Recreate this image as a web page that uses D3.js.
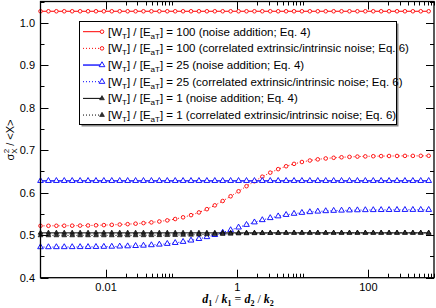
<!DOCTYPE html>
<html>
<head>
<meta charset="utf-8">
<script src="https://cdnjs.cloudflare.com/ajax/libs/d3/7.8.5/d3.min.js"></script>
<style>
  body { margin: 0; background: #fff; }
  svg { display: block; }
  text { font-family: "Liberation Sans", Arial, sans-serif; fill: #000; }
</style>
</head>
<body>
<div id="chart"></div>
<script>
// log10 of d1/k1 at each computed point
var dExp = [-3.000, -2.879, -2.758, -2.638, -2.517, -2.396, -2.275, -2.154, -2.034, -1.913,
            -1.792, -1.671, -1.550, -1.430, -1.309, -1.188, -1.067, -0.946, -0.826, -0.705,
            -0.584, -0.463, -0.342, -0.222, -0.101, 0.020, 0.141, 0.262, 0.382, 0.503,
            0.624, 0.745, 0.866, 0.986, 1.107, 1.228, 1.349, 1.470, 1.590, 1.711,
            1.832, 1.953, 2.074, 2.194, 2.315, 2.436, 2.557, 2.678, 2.798, 2.919];

// noise addition (Eq. 4) is flat in d1/k1
var red100Noise = 1.027,
    blue25Noise = 0.628,
    black1Noise = 0.5055;

// correlated extrinsic/intrinsic noise (Eq. 6)
var red100Corr = [0.5221, 0.5221, 0.5222, 0.5223, 0.5224, 0.5226, 0.5229, 0.5233, 0.5238, 0.5244,
                  0.5251, 0.5260, 0.5271, 0.5285, 0.5302, 0.5323, 0.5349, 0.5381, 0.5421, 0.5472,
                  0.5536, 0.5613, 0.5703, 0.5805, 0.5916, 0.6034, 0.6154, 0.6270, 0.6377, 0.6472,
                  0.6555, 0.6623, 0.6679, 0.6723, 0.6758, 0.6785, 0.6806, 0.6822, 0.6834, 0.6843,
                  0.6850, 0.6855, 0.6859, 0.6862, 0.6864, 0.6865, 0.6867, 0.6867, 0.6868, 0.6869];
var blue25Corr = [0.4721, 0.4721, 0.4722, 0.4722, 0.4723, 0.4724, 0.4725, 0.4727, 0.4730, 0.4733,
                  0.4737, 0.4742, 0.4749, 0.4757, 0.4768, 0.4782, 0.4799, 0.4820, 0.4846, 0.4877,
                  0.4914, 0.4958, 0.5008, 0.5063, 0.5122, 0.5184, 0.5246, 0.5305, 0.5358, 0.5406,
                  0.5447, 0.5480, 0.5507, 0.5529, 0.5546, 0.5559, 0.5569, 0.5577, 0.5582, 0.5587,
                  0.5590, 0.5593, 0.5594, 0.5596, 0.5597, 0.5598, 0.5598, 0.5599, 0.5599, 0.5599];
var black1Corr = [0.4995, 0.4995, 0.4995, 0.4995, 0.4995, 0.4995, 0.4995, 0.4995, 0.4995, 0.4995,
                  0.4995, 0.4995, 0.4996, 0.4997, 0.4998, 0.4999, 0.5001, 0.5003, 0.5006, 0.5009,
                  0.5013, 0.5018, 0.5023, 0.5028, 0.5033, 0.5038, 0.5042, 0.5045, 0.5048, 0.5050,
                  0.5052, 0.5053, 0.5054, 0.5055, 0.5055, 0.5055, 0.5055, 0.5055, 0.5055, 0.5055,
                  0.5055, 0.5055, 0.5055, 0.5055, 0.5055, 0.5055, 0.5055, 0.5055, 0.5055, 0.5055];

var ratios = ['100', '100', '25', '25', '1', '1'],
    descs  = ['noise addition; Eq. 4', 'correlated extrinsic/intrinsic noise; Eq. 6'],
    xMajor = [0.01, 1, 100],
    xMinorMult = [2, 3, 4, 5, 6, 7, 8, 9, 10],
    yMajor = [0.4, 0.5, 0.6, 0.7, 0.8, 0.9, 1.0],
    yMinor = [0.45, 0.55, 0.65, 0.75, 0.85, 0.95, 1.05];

var width  = 436,
    height = 308,
    pLeft = 40.5, pRight = 434, pTop = 1.5, pBottom = 277.7;

var svg = d3.select('#chart').append('svg')
    .attr('width', width)
    .attr('height', height);

var x = d3.scaleLog().domain([1e-3, 1e3]).range([pLeft, pRight]),
    y = d3.scaleLinear().domain([0.4, 1.05]).range([pBottom, pTop]);

function flat(v) { return dExp.map(function(e) { return {x: Math.pow(10, e), y: v}; }); }
function pts(arr) { return dExp.map(function(e, i) { return {x: Math.pow(10, e), y: arr[i]}; }); }

var series = [
    {data: flat(red100Noise), color: '#ff0000', dash: null, lw: 1, mark: 'circle'},
    {data: pts(red100Corr), color: '#ff0000', dash: '1,2', lw: 1, mark: 'circle'},
    {data: flat(blue25Noise), color: '#0000ff', dash: null, lw: 1.3, mark: 'tri'},
    {data: pts(blue25Corr), color: '#0000ff', dash: '1,2', lw: 1, mark: 'tri'},
    {data: flat(black1Noise), color: '#000000', dash: null, lw: 1, mark: 'ftri'},
    {data: pts(black1Corr), color: '#000000', dash: '1,2', lw: 1, mark: 'ftri'}
];

var plot = svg.append('g');
var line = d3.line().x(function(d) { return x(d.x); }).y(function(d) { return y(d.y); });

function drawMarker(sel, s) {
    if (s.mark === 'circle') {
        sel.append('circle').attr('r', 1.8)
            .attr('fill', '#fff').attr('stroke', s.color).attr('stroke-width', 0.9);
    } else if (s.mark === 'tri') {
        sel.append('path').attr('d', d3.symbol(d3.symbolTriangle).size(14)())
            .attr('fill', '#fff').attr('stroke', s.color).attr('stroke-width', 0.9);
    } else {
        sel.append('path').attr('d', d3.symbol(d3.symbolTriangle).size(10)())
            .attr('fill', '#333').attr('stroke', '#000').attr('stroke-width', 0.6);
    }
}

series.forEach(function(s) {
    plot.append('path')
        .datum(s.data)
        .attr('d', line)
        .attr('fill', 'none')
        .attr('stroke', s.color)
        .attr('stroke-width', s.lw)
        .attr('stroke-dasharray', s.dash);
    plot.selectAll(null)
        .data(s.data)
        .enter()
        .append('g')
        .attr('transform', function(d) { return 'translate(' + x(d.x) + ',' + y(d.y) + ')'; })
        .each(function() { drawMarker(d3.select(this), s); });
});

// frame and ticks (Grace-style, ticks inward on all four sides)
var axes = svg.append('g').attr('stroke', '#000').attr('fill', 'none');
axes.append('rect')
    .attr('x', pLeft).attr('y', pTop)
    .attr('width', pRight - pLeft).attr('height', pBottom - pTop)
    .attr('stroke-width', 1.3);

var xMinor = [];
xMajor.forEach(function(m) { xMinorMult.forEach(function(k) { xMinor.push(m * k); }); });

function xTicks(vals, len) {
    vals.forEach(function(v) {
        var px = Math.round(x(v)) + 0.5;
        axes.append('line').attr('x1', px).attr('x2', px).attr('y1', pBottom).attr('y2', pBottom - len);
        axes.append('line').attr('x1', px).attr('x2', px).attr('y1', pTop).attr('y2', pTop + len);
    });
}
function yTicks(vals, len) {
    vals.forEach(function(v) {
        var py = Math.round(y(v)) + 0.5;
        axes.append('line').attr('x1', pLeft).attr('x2', pLeft + len).attr('y1', py).attr('y2', py);
        axes.append('line').attr('x1', pRight).attr('x2', pRight - len).attr('y1', py).attr('y2', py);
    });
}
xTicks(xMajor, 8);
xTicks(xMinor, 4);
yTicks(yMajor, 8);
yTicks(yMinor, 4);

svg.selectAll('.xlab')
    .data(xMajor)
    .enter()
    .append('text')
    .attr('x', function(d) { return x(d); })
    .attr('y', 291)
    .attr('text-anchor', 'middle')
    .style('font-size', '11px')
    .text(function(d) { return d; });

svg.selectAll('.ylab')
    .data(yMajor)
    .enter()
    .append('text')
    .attr('x', 35)
    .attr('y', function(d) { return y(d) + 4; })
    .attr('text-anchor', 'end')
    .style('font-size', '11px')
    .text(function(d) { return d.toFixed(1); });

// y title
var yt = svg.append('text')
    .attr('transform', 'translate(14,140) rotate(-90)')
    .attr('text-anchor', 'middle')
    .style('font-size', '11px');
yt.append('tspan').text('\u03c3');
yt.append('tspan').attr('dy', 3).style('font-size', '8px').text('X');
yt.append('tspan').attr('dy', -8).attr('dx', -5).style('font-size', '8px').text('2');
yt.append('tspan').attr('dy', 5).text(' / <X>');

// x title
var xt = svg.append('text')
    .attr('x', 238).attr('y', 303)
    .attr('text-anchor', 'middle')
    .style('font-family', '"Liberation Serif", "Times New Roman", serif')
    .style('font-size', '12px');
[['d', '1'], ['k', '1'], ['d', '2'], ['k', '2']].forEach(function(p, i) {
    xt.append('tspan').style('font-weight', 'bold').style('font-style', 'italic').text(p[0]);
    xt.append('tspan').attr('dy', 3).style('font-size', '8px').style('font-weight', 'bold').text(p[1]);
    xt.append('tspan').attr('dy', -3).text(i === 1 ? ' = ' : (i === 3 ? '' : ' / '));
});

// legend
var lg = svg.append('g');
lg.append('rect')
    .attr('x', 81.5).attr('y', 23.5).attr('width', 317).attr('height', 103)
    .attr('fill', '#888');
lg.append('rect')
    .attr('x', 79.5).attr('y', 21.5).attr('width', 317).attr('height', 103)
    .attr('fill', '#fff').attr('stroke', '#000').attr('stroke-width', 1);

series.forEach(function(s, i) {
    var ly = 31.7 + i * 16.67;
    lg.append('line')
        .attr('x1', 83).attr('x2', 102).attr('y1', ly).attr('y2', ly)
        .attr('stroke', s.color).attr('stroke-width', s.lw)
        .attr('stroke-dasharray', s.dash);
    drawMarker(lg.append('g').attr('transform', 'translate(102,' + ly + ')'), s);
    var t = lg.append('text').attr('x', 108).attr('y', ly + 4).style('font-size', '11.5px');
    t.append('tspan').text('[W');
    t.append('tspan').attr('dy', 3).style('font-size', '8px').text('T');
    t.append('tspan').attr('dy', -3).text('] / [E');
    t.append('tspan').attr('dy', 3).style('font-size', '8px').text('aT');
    t.append('tspan').attr('dy', -3).text('] = ' + ratios[i] + ' (' + descs[i % 2] + ')');
});
</script>
</body>
</html>
